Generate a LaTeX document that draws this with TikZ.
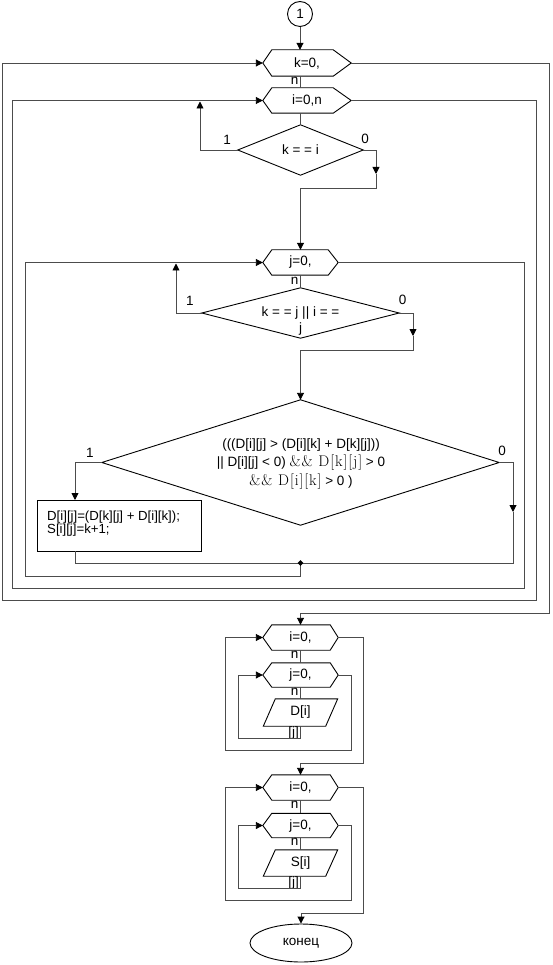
\documentclass[tikz,border=0pt]{standalone}
\usepackage{fontspec}
\newfontfamily\arialf{Liberation Sans}
\newfontfamily\lmwide[LetterSpace=6]{Latin Modern Roman}
\usetikzlibrary{arrows.meta,shapes.geometric,calc}
\newcommand\myhex[3]{\draw[shp] (#1.west) -- ([xshift=#2pt]#1.north west) -- ([xshift=-#3pt]#1.north east) -- (#1.east) -- ([xshift=-#3pt]#1.south east) -- ([xshift=#2pt]#1.south west) -- cycle;}
\newcommand\mydia[1]{\draw[shp] (#1.west) -- (#1.north) -- (#1.east) -- (#1.south) -- cycle;}
\newcommand\mypar[2]{\draw[shp] (#1.south west) -- ([xshift=#2pt]#1.north west) -- (#1.north east) -- ([xshift=-#2pt]#1.south east) -- cycle;}
\newcommand\serpart[1]{{\lmwide\fontsize{15.5}{18.5}\selectfont #1}}
\begin{document}
\begin{tikzpicture}[x=1pt,y=-1pt,
  every node/.style={font=\arialf\fontsize{13.5}{16}\selectfont, inner sep=0pt},
  shp/.style={draw=black, line width=0.9pt},
  conn/.style={draw=black!70, line width=0.9pt},
  arr/.style={-{Triangle[length=7pt,width=7pt,color=black]}},
  blk/.style={rectangle, inner sep=0pt}]
\useasboundingbox[fill=white] (0,0) rectangle (552,965);

% ---------- upper part ----------
\node[shp, circle, minimum size=25pt] (c1) at (300,14) {1};
\node[blk, minimum width=88pt, minimum height=26pt] (k) at (307,63) {k=0,};
\myhex{k}{9}{18}
\node[anchor=east] (n1) at (298.5,81) {n};
\node[blk, minimum width=88pt, minimum height=25pt] (i) at (307,100.5) {i=0,n};
\myhex{i}{9}{18}
\node[blk, minimum width=125pt, minimum height=50pt] (d1) at (300.5,150) {k = = i};
\mydia{d1}
\node (l1a) at (227,139.5) {1};
\node (l0a) at (365,139) {0};

\node[blk, minimum width=75pt, minimum height=25pt] (j) at (300.5,262.5) {j=0,};
\myhex{j}{9}{10}
\node[anchor=east] (n2) at (298.5,281) {n};
\node[blk, minimum width=197pt, minimum height=50pt] (d2) at (300.5,313) {};
\mydia{d2}
\node[align=center] (d2t) at (300.5,321) {k = = j || i = =\\j};
\node (l1b) at (190,301) {1};
\node (l0b) at (402.5,300) {0};

\node[blk, minimum width=397pt, minimum height=125pt] (d3) at (300.5,462.5) {};
\mydia{d3}
\node[align=center, font=\arialf\fontsize{13.5}{18.5}\selectfont] (d3t) at (301,464)
  {(((D[i][j] > (D[i][k] + D[k][j]))\\|| D[i][j] < 0) \serpart{\&\& D[k][j]} > 0\\\serpart{\&\& D[i][k]} > 0 )};
\node (l1c) at (90,453) {1};
\node (l0c) at (502,451) {0};

\node[shp, blk, minimum width=164pt, minimum height=51pt] (box) at (119,525.5) {};
\node[align=left, anchor=north west, font=\arialf\fontsize{13.2}{12.5}\selectfont] (boxt) at (47,511) {D[i][j]=(D[k][j] + D[i][k]);\\S[i][j]=k+1;};

% ---------- lower part, block 1 ----------
\node[blk, minimum width=75pt, minimum height=25pt] (hi1) at (300.5,637.5) {i=0,};
\myhex{hi1}{9}{8}
\node[anchor=east] (n3) at (298.5,655) {n};
\node[blk, minimum width=75pt, minimum height=24pt] (hj1) at (300.5,675) {j=0,};
\myhex{hj1}{9}{8}
\node[anchor=east] (n4) at (298.5,692) {n};
\node[blk, minimum width=74pt, minimum height=27pt] (p1) at (300.5,712.5) {D[i]};
\mypar{p1}{12}
\node[anchor=east] (jj1) at (299,733) {[j]};

% ---------- lower part, block 2 ----------
\node[blk, minimum width=75pt, minimum height=25pt] (hi2) at (300.5,787.5) {i=0,};
\myhex{hi2}{9}{8}
\node[anchor=east] (n5) at (298.5,805) {n};
\node[blk, minimum width=75pt, minimum height=24pt] (hj2) at (300.5,825.5) {j=0,};
\myhex{hj2}{9}{8}
\node[anchor=east] (n6) at (298.5,842) {n};
\node[blk, minimum width=74pt, minimum height=26pt] (p2) at (300.5,863) {S[i]};
\mypar{p2}{12}
\node[anchor=east] (jj2) at (299,883) {[j]};
\node[shp, ellipse, minimum width=102pt, minimum height=38pt] (e) at (301,943) {конец};

% ---------- connectors upper ----------
\draw[conn,arr] (c1.south) -- (c1.south |- k.north);
\draw[conn] (c1.south |- k.south) -- (c1.south |- i.north);
\draw[conn] (d1.north |- i.south) -- (d1.north);

\coordinate (kxB) at (549,613);
\draw[conn,arr] (k.east) -| (kxB) -| (hi1.north);
\coordinate (ixB) at (536,600);
\coordinate (ixL) at (2,600);
\draw[conn,arr] (i.east) -| (ixB) -- (ixL) |- (k.west);
\coordinate (jxB) at (524,588);
\coordinate (jxL) at (12,588);
\draw[conn,arr] (j.east) -| (jxB) -- (jxL) |- (i.west);
\coordinate (m) at (300.5,563);
\coordinate (mB) at (300.5,576);
\coordinate (jrL) at (25,576);
\draw[conn,arr] (m) -- (mB) -- (jrL) |- (j.west);

\coordinate (d1up) at (200,101.5);
\draw[conn,arr] (d1.west) -| (d1up);
\coordinate (d1a) at (376,174);
\coordinate (d1b) at (376,188);
\draw[conn,arr] (d1.east) -| (d1a);
\draw[conn,arr] (d1a) -- (d1b) -| (j.north);

\draw[conn] (j.south) -- (d2.north);
\coordinate (d2up) at (176,263.5);
\draw[conn,arr] (d2.west) -| (d2up);
\coordinate (d2a) at (413,336);
\coordinate (d2b) at (413,350);
\draw[conn,arr] (d2.east) -| (d2a);
\draw[conn,arr] (d2a) -- (d2b) -| (d3.north);

\coordinate (bxT) at (75,500);
\draw[conn,arr] (d3.west) -| (bxT);
\coordinate (d3a) at (513,512);
\coordinate (d3b) at (513,563);
\draw[conn,arr] (d3.east) -| (d3a);
\draw[conn] (d3a) -- (d3b) -- (m);
\coordinate (bxB) at (75,551);
\draw[conn] (bxB) |- (m);
\node[diamond, fill=black, minimum size=6pt, inner sep=0pt] (mdot) at (m) {};

% ---------- connectors lower ----------
\draw[conn] (hi1.south) -- (hj1.north);
\draw[conn] (hj1.south) -- (p1.north);
\coordinate (r1) at (300.5,738);
\coordinate (r1L) at (238,738);
\draw[conn,arr] (p1.south) -- (r1) -- (r1L) |- (hj1.west);
\coordinate (jx1B) at (351,750);
\coordinate (jx1L) at (225,750);
\draw[conn,arr] (hj1.east) -| (jx1B) -- (jx1L) |- (hi1.west);
\coordinate (ix1B) at (363,763);
\draw[conn,arr] (hi1.east) -| (ix1B) -| (hi2.north);

\draw[conn] (hi2.south) -- (hj2.north);
\draw[conn] (hj2.south) -- (p2.north);
\coordinate (r2) at (300.5,888);
\coordinate (r2L) at (238,888);
\draw[conn,arr] (p2.south) -- (r2) -- (r2L) |- (hj2.west);
\coordinate (jx2B) at (351,900);
\coordinate (jx2L) at (225,900);
\draw[conn,arr] (hj2.east) -| (jx2B) -- (jx2L) |- (hi2.west);
\coordinate (ix2B) at (363,913);
\draw[conn,arr] (hi2.east) -| (ix2B) -| (e.north);
\end{tikzpicture}
\end{document}
